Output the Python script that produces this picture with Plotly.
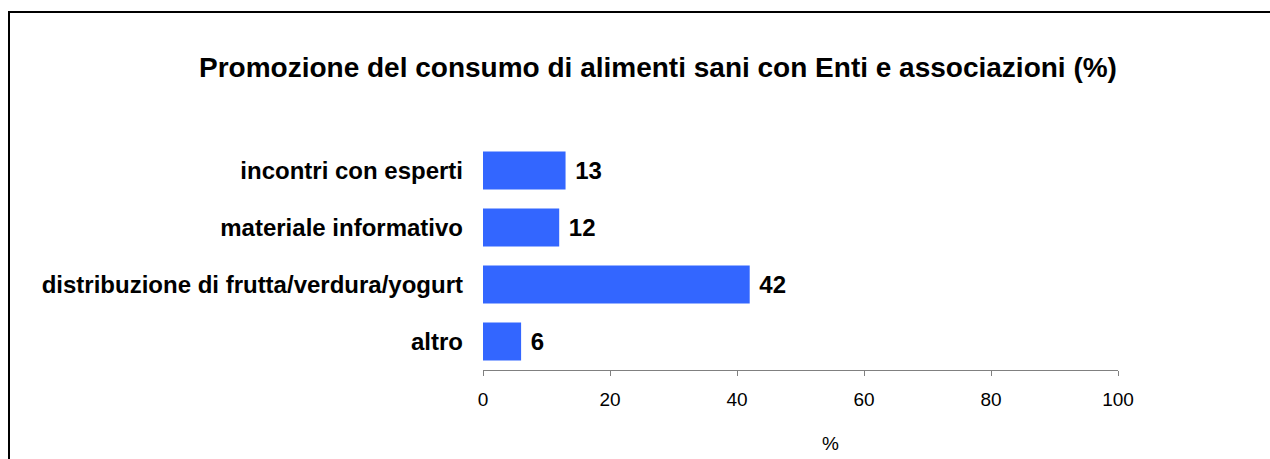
import plotly.graph_objects as go

categories = [
    "incontri con esperti",
    "materiale informativo",
    "distribuzione di frutta/verdura/yogurt",
    "altro",
]
values = [13, 12, 42, 6]
x_ticks = [0, 20, 40, 60, 80, 100]

font_family = "Liberation Sans, Arial, sans-serif"
bar_color = "#3366FF"
axis_color = "#808080"

# plot area in page pixels: x 483..1118, y 142..370
W, H = 1270, 459
L, R, T, B = 483, W - 1118, 142, H - 370


def px_x(px):
    return (px - L) / (W - L - R)


def px_y(py):
    return (H - B - py) / (H - T - B)


fig = go.Figure()

fig.add_trace(go.Bar(
    x=values,
    y=categories,
    orientation="h",
    marker=dict(color=bar_color, line=dict(width=0)),
    text=[f" {v}" for v in values],
    textposition="outside",
    textfont=dict(family=font_family, size=24, color="black", weight="bold"),
    cliponaxis=False,
    width=0.667,
    hoverinfo="x+y",
))

# outer frame: only the top and left edges are inside the window
frame = dict(color="black", width=2)
fig.add_shape(type="line", xref="paper", yref="paper",
              x0=px_x(8), x1=px_x(W), y0=px_y(12), y1=px_y(12), line=frame)
fig.add_shape(type="line", xref="paper", yref="paper",
              x0=px_x(9), x1=px_x(9), y0=px_y(11), y1=px_y(H), line=frame)

fig.add_annotation(
    text="Promozione del consumo di alimenti sani con Enti e associazioni (%)",
    xref="paper", yref="paper", x=px_x(658), y=px_y(67),
    xanchor="center", yanchor="middle", showarrow=False,
    font=dict(family=font_family, size=28, color="black", weight="bold"),
)

fig.add_annotation(
    text="%", xref="paper", yref="paper", x=px_x(830), y=px_y(443),
    xanchor="center", yanchor="middle", showarrow=False,
    font=dict(family=font_family, size=19, color="black"),
)

fig.update_layout(
    width=W,
    height=H,
    paper_bgcolor="white",
    plot_bgcolor="white",
    showlegend=False,
    margin=dict(l=L, r=R, t=T, b=B),
    xaxis=dict(
        range=[0, 100],
        tickvals=x_ticks,
        ticks="outside",
        ticklen=5,
        tickcolor=axis_color,
        showline=True,
        linecolor=axis_color,
        linewidth=1,
        showgrid=False,
        zeroline=False,
        ticklabelstandoff=7,
        tickfont=dict(family=font_family, size=19, color="black"),
        fixedrange=True,
    ),
    yaxis=dict(
        autorange="reversed",
        showgrid=False,
        showline=False,
        zeroline=False,
        ticks="",
        ticklabelstandoff=19,
        tickfont=dict(family=font_family, size=24, color="black", weight="bold"),
        fixedrange=True,
    ),
)

# drop the page's default body margin so the figure fills the window exactly
fig.write_html(
    "out.html",
    config={"displayModeBar": False},
    post_script=(
        "document.documentElement.style.overflow = 'hidden';"
        "document.body.style.margin = '0';"
        "document.body.style.overflow = 'hidden';"
    ),
)
